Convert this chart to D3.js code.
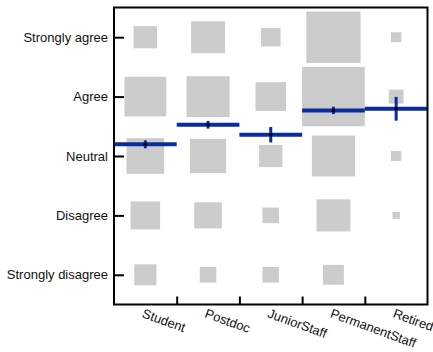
<!DOCTYPE html>
<html>
<head>
<meta charset="utf-8">
<script src="https://cdn.jsdelivr.net/npm/d3@7"></script>
<style>
  html, body { margin: 0; padding: 0; background: #fff; }
  svg { display: block; }
  text { font-family: "Liberation Sans", Arial, Helvetica, sans-serif; }
</style>
</head>
<body>
<svg id="chart" width="433" height="352"></svg>
<script>
// Survey answers per career stage
const groups = ["Student", "Postdoc", "JuniorStaff", "PermanentStaff", "Retired"];
const levels = ["Strongly disagree", "Disagree", "Neutral", "Agree", "Strongly agree"];

// Response counts per group, ordered Strongly disagree -> Strongly agree
const studentCounts   = [9, 16, 26, 32, 10];
const postdocCounts   = [5, 14, 24, 34, 21];
const juniorCounts    = [5, 5, 10, 17, 7];
const permanentCounts = [8, 21, 34, 72, 54];
const retiredCounts   = [0, 1, 2, 4, 2];

// Mean score (1-5) and its error half-width per group
const meanScore = [3.197, 3.526, 3.358, 3.768, 3.795];
const meanError = [0.067, 0.064, 0.13, 0.062, 0.2];

const counts = [studentCounts, postdocCounts, juniorCounts, permanentCounts, retiredCounts];

const svg = d3.select("#chart");
const plotLeft = 114, plotRight = 427.5, plotTop = 7.5, plotBottom = 304.5;

const x = d3.scaleLinear().domain([0.5, groups.length + 0.5]).range([plotLeft, plotRight]);
const y = d3.scaleLinear().domain([0.5, levels.length + 0.5]).range([plotBottom, plotTop]);

// Square side as a fraction of one cell, area proportional to count
const maxCount = d3.max(counts.flat());
const side = d3.scaleSqrt().domain([0, maxCount]).range([0, 1]);

const cells = [];
counts.forEach((arr, gi) => arr.forEach((n, li) => {
  if (n > 0) cells.push({ g: gi + 1, l: li + 1, n });
}));

const unitX = x(1) - x(0), unitY = y(0) - y(1);

svg.append("g").selectAll("rect").data(cells).join("rect")
  .attr("x", d => x(d.g) - side(d.n) * unitX / 2)
  .attr("y", d => y(d.l) - side(d.n) * unitY / 2)
  .attr("width", d => side(d.n) * unitX)
  .attr("height", d => side(d.n) * unitY)
  .attr("fill", "#cccccc");

// Mean lines with error bars
const blue = "#0a2d9e";
const means = groups.map((g, i) => ({ g: i + 1, m: meanScore[i], e: meanError[i] }));
const mg = svg.append("g");
mg.selectAll("line.mean").data(means).join("line")
  .attr("class", "mean")
  .attr("x1", d => x(d.g - 0.5)).attr("x2", d => x(d.g + 0.5))
  .attr("y1", d => y(d.m)).attr("y2", d => y(d.m))
  .attr("stroke", blue).attr("stroke-width", 4);
mg.selectAll("line.err").data(means).join("line")
  .attr("class", "err")
  .attr("x1", d => x(d.g)).attr("x2", d => x(d.g))
  .attr("y1", d => y(d.m - d.e)).attr("y2", d => y(d.m + d.e))
  .attr("stroke", blue).attr("stroke-width", 3);
mg.selectAll("circle").data(means).join("circle")
  .attr("cx", d => x(d.g)).attr("cy", d => y(d.m)).attr("r", 1.8)
  .attr("fill", "#000");

// Left axis with inward ticks
const yAxis = d3.axisLeft(y)
  .tickValues(d3.range(1, levels.length + 1))
  .tickFormat(v => levels[v - 1])
  .tickSizeInner(-10).tickSizeOuter(0).tickPadding(6);
const ya = svg.append("g").attr("transform", `translate(${plotLeft},0)`).call(yAxis);
ya.select(".domain").remove();
ya.selectAll(".tick line").attr("stroke", "#000").attr("stroke-width", 2);
ya.selectAll(".tick text").attr("font-size", 13).attr("fill", "#111")
  .attr("font-family", "Liberation Sans, Arial, sans-serif");

// Bottom axis: inward ticks between groups, rotated group labels
const xAxis = d3.axisBottom(x)
  .tickValues(d3.range(1.5, groups.length, 1))
  .tickFormat("").tickSizeInner(-8).tickSizeOuter(0);
const xa = svg.append("g").attr("transform", `translate(0,${plotBottom})`).call(xAxis);
xa.select(".domain").remove();
xa.selectAll(".tick line").attr("stroke", "#000").attr("stroke-width", 2);

svg.append("g").selectAll("text").data(groups).join("text")
  .attr("transform", (d, i) => `translate(${x(i + 1) - 4},${plotBottom + 12.5}) rotate(20)`)
  .attr("font-size", 13).attr("fill", "#111")
  .attr("font-family", "Liberation Sans, Arial, sans-serif")
  .text(d => d);

// Plot frame
svg.append("rect")
  .attr("x", plotLeft).attr("y", plotTop)
  .attr("width", plotRight - plotLeft).attr("height", plotBottom - plotTop)
  .attr("fill", "none").attr("stroke", "#000").attr("stroke-width", 2);
</script>
</body>
</html>
